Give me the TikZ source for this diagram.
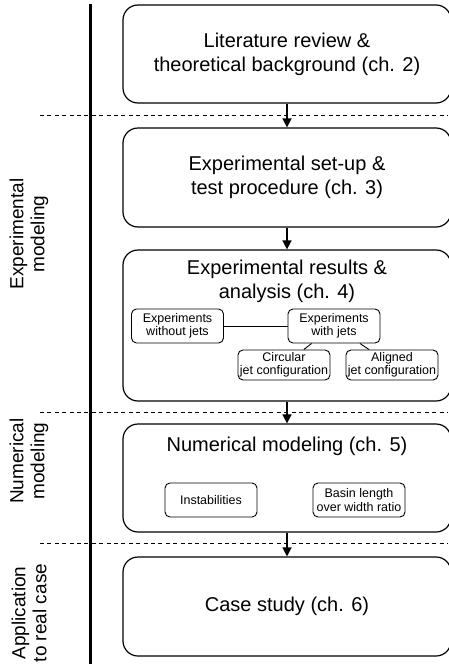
\documentclass[tikz,border=0pt]{standalone}
\usepackage{fontspec}
\setmainfont{Liberation Sans}
\usetikzlibrary{arrows.meta}
\begin{document}
\begin{tikzpicture}[x=1pt,y=-1pt,
 bigbox/.style={draw, rounded corners=15pt, line width=1.2pt, minimum width=328pt, inner sep=0pt, align=center, font=\fontsize{20}{24}\selectfont},
 titletext/.style={inner sep=0pt, align=center, font=\fontsize{20}{24}\selectfont},
 smallbox/.style={draw, rounded corners=5pt, line width=0.9pt, minimum width=92pt, inner sep=0pt, align=center, font=\fontsize{12.5}{13.5}\selectfont},
 sepline/.style={dash pattern=on 4pt off 3.4pt, line width=0.9pt},
 flow/.style={line width=1.5pt, -{Triangle[width=9pt,length=9pt]}},
 link/.style={line width=0.9pt},
 phase/.style={rotate=90, align=center, font=\fontsize{19}{21}\selectfont, inner sep=0pt}]
\useasboundingbox (0,0) rectangle (448,664);

% main vertical bar
\draw[line width=3pt] (90.5,4) -- (90.5,664);

% separators
\draw[sepline] (40,115) -- (448,115);
\draw[sepline] (40,412) -- (448,412);
\draw[sepline] (40,543) -- (448,543);

% phase labels
\node[phase] (l1) at (29,234) {Experimental\\modeling};
\node[phase] (l2) at (29,461) {Numerical\\modeling};
\node[phase] (l3) at (29,613) {Application\\to real case};

% main boxes
\node[bigbox, minimum height=98pt] (b1) at (287,54) {Literature review \&\\theoretical background (ch. 2)};
\node[bigbox, minimum height=99pt] (b2) at (287,177.5) {Experimental set-up \&\\test procedure (ch. 3)};
\node[bigbox, minimum height=151pt] (b3) at (287,325.5) {};
\node[titletext] (t3) at (287,281) {Experimental results \&\\analysis (ch. 4)};
\node[bigbox, minimum height=108pt] (b4) at (287,478) {};
\node[titletext] (t4) at (287,446) {Numerical modeling (ch. 5)};
\node[bigbox, minimum height=99pt] (b5) at (287,606.5) {Case study (ch. 6)};

% sub boxes in chapter 4
\node[smallbox, minimum height=34pt] (wo) at (177.5,326) {Experiments\\without jets};
\node[smallbox, minimum height=34pt] (wj) at (334,326) {Experiments\\with jets};
\node[smallbox, minimum height=30pt] (circ) at (284,365) {Circular\\jet configuration};
\node[smallbox, minimum height=30pt] (alig) at (392,365) {Aligned\\jet configuration};

% sub boxes in chapter 5
\node[smallbox, minimum height=34pt] (inst) at (211,500) {Instabilities};
\node[smallbox, minimum height=34pt] (basin) at (359,500) {Basin length\\over width ratio};

% links
\draw[link] (wo) -- (wj);
\draw[link] (wj) -- (circ);
\draw[link] (wj) -- (alig);

% flow arrows
\draw[flow] (b1) -- (b2);
\draw[flow] (b2) -- (b3);
\draw[flow] (b3) -- (b4);
\draw[flow] (b4) -- (b5);
\end{tikzpicture}
\end{document}
